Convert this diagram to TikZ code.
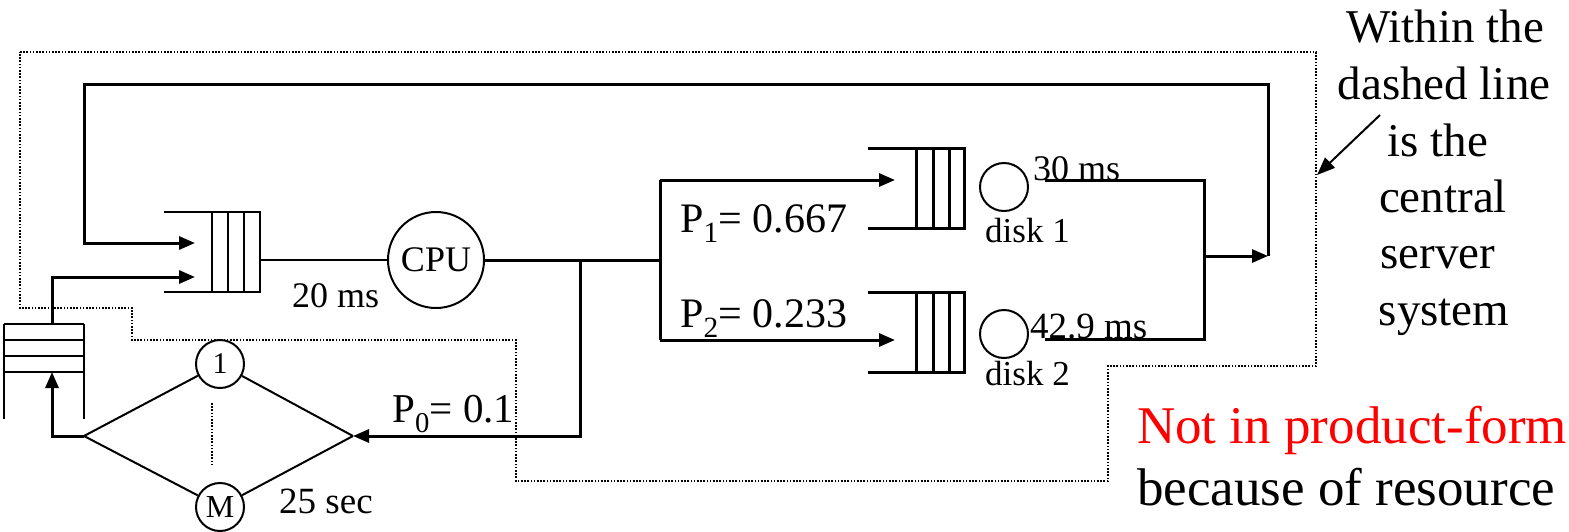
\documentclass[tikz,border=0pt]{standalone}
\usepackage{fontspec}
\setmainfont{Liberation Serif}
\usetikzlibrary{arrows.meta}
\newcommand\fsz[1]{\fontsize{#1}{#1}\selectfont}
\begin{document}
\begin{tikzpicture}[x=1pt,y=-1pt,
  heavyln/.style={line width=3pt, line join=miter},
  lightln/.style={line width=2pt},
  dotln/.style={line width=1.6pt, dash pattern=on 1.6pt off 1.6pt},
  tip/.style={-{Triangle[length=16pt,width=13pt]}},
  srv/.style={circle, draw, line width=2pt, inner sep=0pt},
  lbl/.style={anchor=base west, inner sep=0pt},
  rtxt/.style={anchor=base, inner sep=0pt, font=\fsz{47}}
]
\useasboundingbox (0,0) rectangle (1569,531);

% dotted boundary of the central server system
\draw[dotln] (20,52) -- (1316,52) -- (1316,366) -- (1108,366) -- (1108,481)
  -- (516,481) -- (516,340) -- (132,340) -- (132,308) -- (20,308) -- cycle;

% service centres
\node[srv, minimum size=96pt, font=\fsz{36}] (cpu) at (436,260) {CPU};
\node[srv, minimum size=48pt] (d1) at (1004,187) {};
\node[srv, minimum size=48pt] (d2) at (1004,334) {};
\node[srv, minimum size=48pt, font=\fsz{30}] (t1) at (220,364) {1};
\node[srv, minimum size=48pt, font=\fsz{32}] (tM) at (220,507) {M};

% CPU queue
\draw[lightln] (164,212) -- (260,212) -- (260,292) -- (164,292);
\foreach \x in {212,228,244} \draw[lightln] (\x,212) -- (\x,292);
\coordinate (cq) at (260,260);
\coordinate (cqin1) at (195,243);
\coordinate (cqin2) at (195,277);

% disk queues
\draw[heavyln] (868,148) -- (964,148) -- (964,228) -- (868,228);
\foreach \x in {916,933,949} \draw[heavyln] (\x,148) -- (\x,228);
\draw[heavyln] (868,292) -- (964,292) -- (964,372) -- (868,372);
\foreach \x in {916,933,949} \draw[heavyln] (\x,292) -- (\x,372);
\coordinate (dq1) at (895,180);
\coordinate (dq2) at (895,340);

% terminal queue
\foreach \y in {324,340,356,372} \draw[lightln] (4,\y) -- (84,\y);
\draw[lightln] (4,324) -- (4,419);
\draw[lightln] (84,324) -- (84,419);
\coordinate (tqin) at (52,372);
\coordinate (tqout) at (52,324);

% junctions
\coordinate (split) at (580,260);
\coordinate (fork) at (660,260);
\coordinate (fork1) at (660,180);
\coordinate (fork2) at (660,340);
\coordinate (ret) at (580,436);
\coordinate (tin) at (353,436);
\coordinate (tout) at (84,436);
\coordinate (o1) at (1045,180);
\coordinate (o2) at (1045,339);
\coordinate (join) at (1204,256);
\coordinate (loopc) at (1268,256);

% connectors
\draw[lightln] (cq) -- (cpu);
\draw[heavyln] (cpu) -- (fork);
\draw[heavyln] (fork1) -- (fork2);
\draw[heavyln, tip] (fork1) -- (dq1);
\draw[heavyln, tip] (fork2) -- (dq2);
\draw[heavyln, tip] (split) -- (ret) -- (tin);
\draw[heavyln] (o1) -| (join) |- (o2);
\draw[heavyln, tip] (join) -- (loopc);
\draw[heavyln, tip] (loopc) -- (1268,84) -- (84,84) -- (84,243) -- (cqin1);
\draw[heavyln, tip] (tqout) |- (cqin2);
\draw[heavyln, tip] (tout) -- (52,436) -- (tqin);
\draw[lightln] (tout) -- (t1);
\draw[lightln] (tout) -- (tM);
\draw[lightln] (t1) -- (tin);
\draw[lightln] (tM) -- (tin);
\draw[dotln] (212,403) -- (212,465);

% labels
\node[lbl, font=\fsz{36}] (l20) at (292,307) {20 ms};
\node[lbl, font=\fsz{42}] (lp1) at (680,232) {P\textsubscript{1}= 0.667};
\node[lbl, font=\fsz{42}] (lp2) at (680,327) {P\textsubscript{2}= 0.233};
\node[lbl, font=\fsz{41}] (lp0) at (392,422) {P\textsubscript{0}= 0.1};
\node[lbl, font=\fsz{36}] (l30) at (1033,180) {30 ms};
\node[lbl, font=\fsz{37}] (l42) at (1030,338) {42.9 ms};
\node[lbl, font=\fsz{35}] (ld1) at (985,242) {disk 1};
\node[lbl, font=\fsz{35}] (ld2) at (985,385) {disk 2};
\node[lbl, font=\fsz{37}] (l25) at (279,513) {25 sec};

% explanation
\node[rtxt] (w1) at (1445,42) {Within the};
\node[rtxt] (w2) at (1444,99) {dashed line};
\node[rtxt] (w3) at (1438,156) {is the};
\node[rtxt] (w4) at (1443,212) {central};
\node[rtxt] (w5) at (1438,268) {server};
\node[rtxt] (w6) at (1444,325) {system};
\coordinate (ptr) at (1380,115);
\coordinate (ptrtip) at (1317,175);
\draw[lightln, -{Triangle[length=18pt,width=14pt]}] (ptr) -- (ptrtip);

\node[lbl, font=\fsz{53}, text={rgb,255:red,255;green,0;blue,0}] (nf) at (1137,443) {Not in product-form};
\node[lbl, font=\fsz{53}] (bc) at (1137,505) {because of resource};
\end{tikzpicture}
\end{document}
